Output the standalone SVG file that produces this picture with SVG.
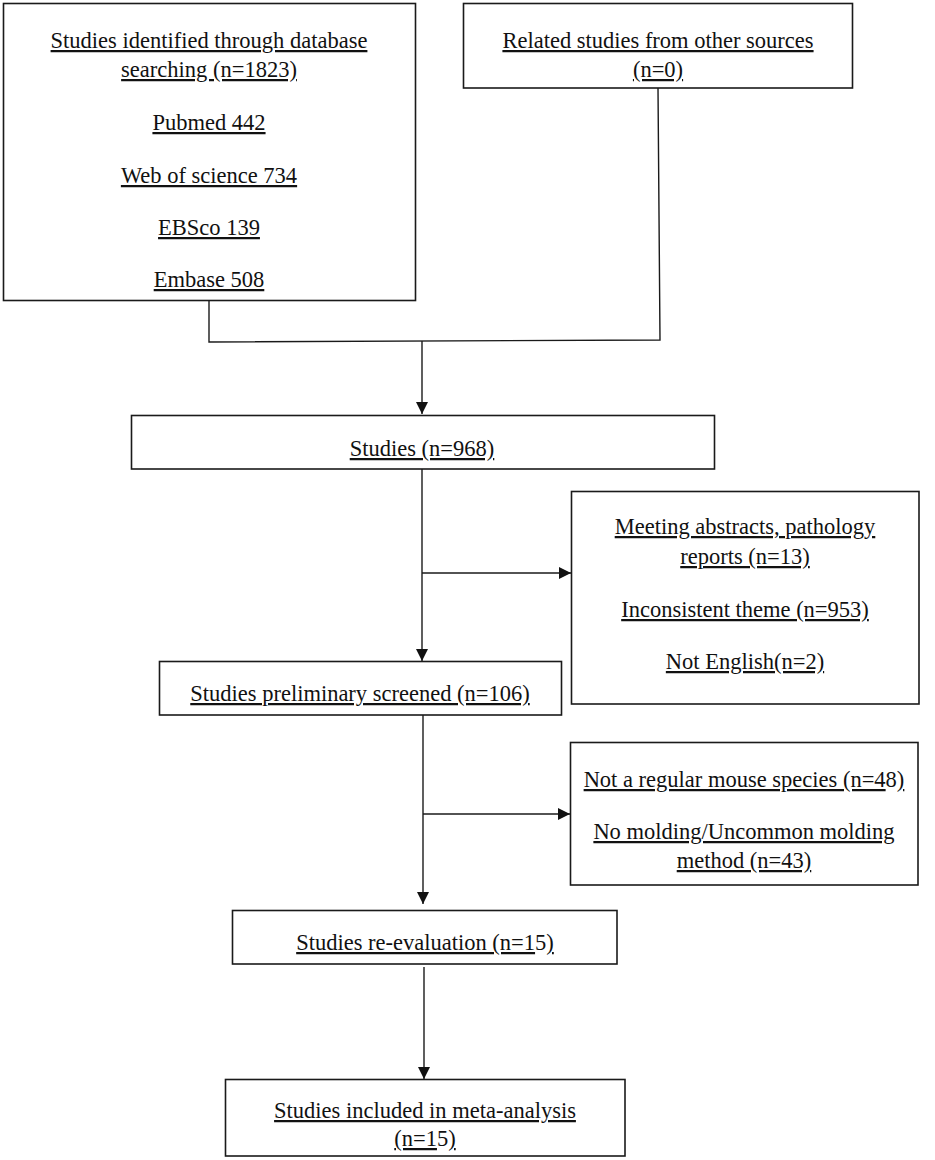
<svg xmlns="http://www.w3.org/2000/svg" width="935" height="1160" viewBox="0 0 935 1160">
<style>
.box{fill:#fff;stroke:#1a1a1a;stroke-width:1.6}
.t{font-family:"Liberation Serif","Times New Roman",serif;font-size:22.5px;fill:#111;text-anchor:middle}
.u{text-decoration:underline;text-decoration-skip-ink:none}
.c{fill:none;stroke:#1a1a1a;stroke-width:1.4}
</style>
<defs>
<marker id="ah" viewBox="0 0 12 12" refX="12" refY="6" markerWidth="12" markerHeight="12" markerUnits="userSpaceOnUse" orient="auto">
<path d="M0,0 L12,6 L0,12 Z" fill="#111"/>
</marker>
</defs>
<rect width="935" height="1160" fill="#fff"/>
<g id="connectors">
<polyline class="c" points="209,301 209,342 660,340 658,88"/>
<line class="c" x1="422" y1="341" x2="422" y2="414" marker-end="url(#ah)"/>
<line class="c" x1="422" y1="469" x2="422" y2="661" marker-end="url(#ah)"/>
<line class="c" x1="422" y1="573" x2="571" y2="573" marker-end="url(#ah)"/>
<line class="c" x1="423" y1="715" x2="423" y2="904" marker-end="url(#ah)"/>
<line class="c" x1="423" y1="814" x2="570" y2="814" marker-end="url(#ah)"/>
<line class="c" x1="424" y1="967" x2="424" y2="1079" marker-end="url(#ah)"/>
</g>
<g id="n_database">
<rect class="box" x="3.5" y="3.5" width="412" height="297"/>
<text class="t u" x="209" y="48">Studies identified through database</text>
<text class="t u" x="209" y="77">searching (n=1823)</text>
<text class="t u" x="209" y="130">Pubmed 442</text>
<text class="t u" x="209" y="183">Web of science 734</text>
<text class="t u" x="209" y="235">EBSco 139</text>
<text class="t u" x="209" y="287">Embase 508</text>
</g>
<g id="n_other">
<rect class="box" x="463.5" y="3.5" width="389" height="84.5"/>
<text class="t u" x="658" y="48">Related studies from other sources</text>
<text class="t u" x="658" y="77">(n=0)</text>
</g>
<g id="n_studies">
<rect class="box" x="131.5" y="415.5" width="583" height="53.5"/>
<text class="t u" x="422" y="456">Studies (n=968)</text>
</g>
<g id="n_excl1">
<rect class="box" x="571.5" y="491.5" width="347.5" height="212.5"/>
<text class="t u" x="745" y="534">Meeting abstracts, pathology</text>
<text class="t u" x="745" y="564">reports (n=13)</text>
<text class="t u" x="745" y="617">Inconsistent theme (n=953)</text>
<text class="t u" x="745" y="669">Not English(n=2)</text>
</g>
<g id="n_prelim">
<rect class="box" x="159.5" y="661.5" width="402" height="53.5"/>
<text class="t u" x="360" y="701">Studies preliminary screened (n=106)</text>
</g>
<g id="n_excl2">
<rect class="box" x="570.5" y="742.5" width="347.5" height="142.5"/>
<text class="t" x="744" y="787"><tspan class="u">Not a regular mouse species (n=4</tspan>8<tspan class="u">)</tspan></text>
<text class="t u" x="744" y="839">No molding/Uncommon molding</text>
<text class="t u" x="744" y="868">method (n=43)</text>
</g>
<g id="n_reeval">
<rect class="box" x="232.5" y="910.5" width="384.5" height="53.5"/>
<text class="t" x="425" y="950"><tspan class="u">Studies re-evaluation (n=1</tspan>5<tspan class="u">)</tspan></text>
</g>
<g id="n_included">
<rect class="box" x="225.5" y="1079.5" width="399.5" height="76.5"/>
<text class="t u" x="425" y="1118">Studies included in meta-analysis</text>
<text class="t" x="425" y="1146"><tspan class="u">(n=1</tspan>5<tspan class="u">)</tspan></text>
</g>
</svg>
